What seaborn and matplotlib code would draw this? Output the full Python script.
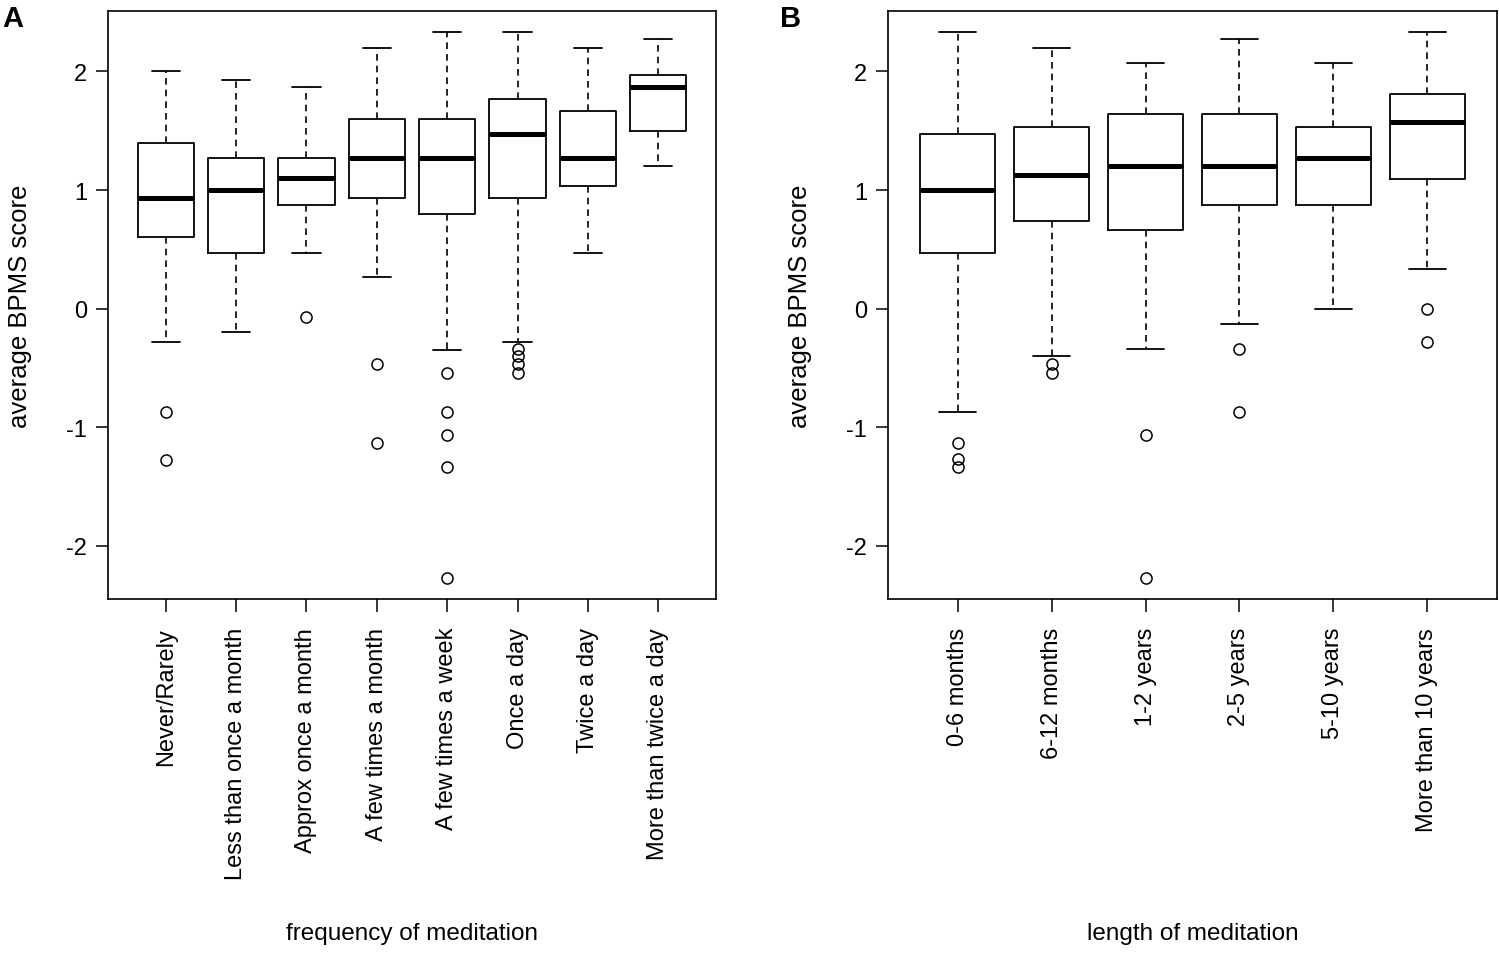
import matplotlib
matplotlib.use("Agg")
import matplotlib.pyplot as plt
import seaborn as sns

# panel A: frequency of meditation (box statistics)
freq_labels = ["Never/Rarely", "Less than once a month", "Approx once a month",
               "A few times a month", "A few times a week", "Once a day",
               "Twice a day", "More than twice a day"]
freq_whislo = [-0.28, -0.20, 0.47, 0.27, -0.35, -0.28, 0.47, 1.20]
freq_q1 = [0.60, 0.47, 0.87, 0.93, 0.80, 0.93, 1.03, 1.50]
freq_med = [0.93, 1.00, 1.10, 1.27, 1.27, 1.47, 1.27, 1.87]
freq_q3 = [1.40, 1.27, 1.27, 1.60, 1.60, 1.77, 1.67, 1.97]
freq_whishi = [2.00, 1.93, 1.87, 2.20, 2.33, 2.33, 2.20, 2.27]
freq_fliers = [[-0.87, -1.28], [], [-0.07], [-0.47, -1.13],
               [-0.54, -0.87, -1.07, -1.34, -2.27],
               [-0.34, -0.40, -0.47, -0.54], [], []]

# panel B: length of meditation
len_labels = ["0-6 months", "6-12 months", "1-2 years", "2-5 years",
              "5-10 years", "More than 10 years"]
len_whislo = [-0.87, -0.40, -0.34, -0.13, 0.00, 0.33]
len_q1 = [0.47, 0.74, 0.66, 0.87, 0.87, 1.09]
len_med = [1.00, 1.13, 1.20, 1.20, 1.27, 1.57]
len_q3 = [1.47, 1.53, 1.64, 1.64, 1.53, 1.81]
len_whishi = [2.33, 2.20, 2.07, 2.27, 2.07, 2.33]
len_fliers = [[-1.13, -1.27, -1.34], [-0.47, -0.54], [-1.07, -2.27],
              [-0.34, -0.87], [], [0.00, -0.28]]

sns.set_theme(style="ticks")
plt.rcParams["font.family"] = ["Liberation Sans", "DejaVu Sans"]
plt.rcParams["axes.edgecolor"] = "black"
plt.rcParams["axes.linewidth"] = 1.2
plt.rcParams["text.color"] = "black"
plt.rcParams["axes.labelcolor"] = "black"
plt.rcParams["xtick.color"] = "black"
plt.rcParams["ytick.color"] = "black"


def make_stats(labels, whislo, q1, med, q3, whishi, fliers):
    stats = []
    for i in range(len(labels)):
        stats.append({
            "label": labels[i], "whislo": whislo[i], "q1": q1[i], "med": med[i],
            "q3": q3[i], "whishi": whishi[i], "fliers": fliers[i],
        })
    return stats


def draw_panel(ax, stats, xlabel, letter, letter_x):
    n = len(stats)
    ax.bxp(
        stats,
        positions=range(1, n + 1),
        widths=0.8,
        capwidths=0.4,
        showfliers=True,
        patch_artist=False,
        boxprops=dict(color="black", linewidth=1.3),
        whiskerprops=dict(color="black", linewidth=1.2, linestyle=(0, (4, 3))),
        capprops=dict(color="black", linewidth=1.3),
        medianprops=dict(color="black", linewidth=3.6, solid_capstyle="butt"),
        flierprops=dict(marker="o", markerfacecolor="none", markeredgecolor="black",
                        markersize=8, markeredgewidth=1.1),
    )
    # R-style 4% padding around the category range
    pad = 0.04 * n
    ax.set_xlim(0.5 - pad, n + 0.5 + pad)
    ax.set_ylim(-2.45, 2.51)
    ax.set_yticks([-2, -1, 0, 1, 2])
    ax.set_yticklabels(["-2", "-1", "0", "1", "2"])
    ax.tick_params(axis="x", labelrotation=90, labelsize=17, length=9, width=1.1,
                   pad=11)
    ax.tick_params(axis="y", labelsize=17, length=9, width=1.1, pad=6)
    for sp in ax.spines.values():
        sp.set_visible(True)
        sp.set_color("black")
    ax.set_ylabel("average BPMS score", fontsize=18.5)
    ax.yaxis.set_label_coords(-0.125, 0.5)
    ax.set_xlabel(xlabel, fontsize=17.5)
    ax.xaxis.set_label_coords(0.5, -0.55)
    ax.text(letter_x, 0.988, letter, transform=ax.transAxes,
            fontsize=21, fontweight="bold", ha="left", va="center")


fig = plt.figure(figsize=(14.99, 9.54), dpi=100)
ax_a = fig.add_axes([108 / 1499, 354 / 954, 608 / 1499, 588 / 954])
ax_b = fig.add_axes([888 / 1499, 354 / 954, 609 / 1499, 588 / 954])

draw_panel(ax_a, make_stats(freq_labels, freq_whislo, freq_q1, freq_med, freq_q3,
                            freq_whishi, freq_fliers),
           "frequency of meditation", "A", -0.174)
draw_panel(ax_b, make_stats(len_labels, len_whislo, len_q1, len_med, len_q3,
                            len_whishi, len_fliers),
           "length of meditation", "B", -0.178)

fig.savefig("out.png", dpi=100, facecolor="white")
plt.close(fig)
